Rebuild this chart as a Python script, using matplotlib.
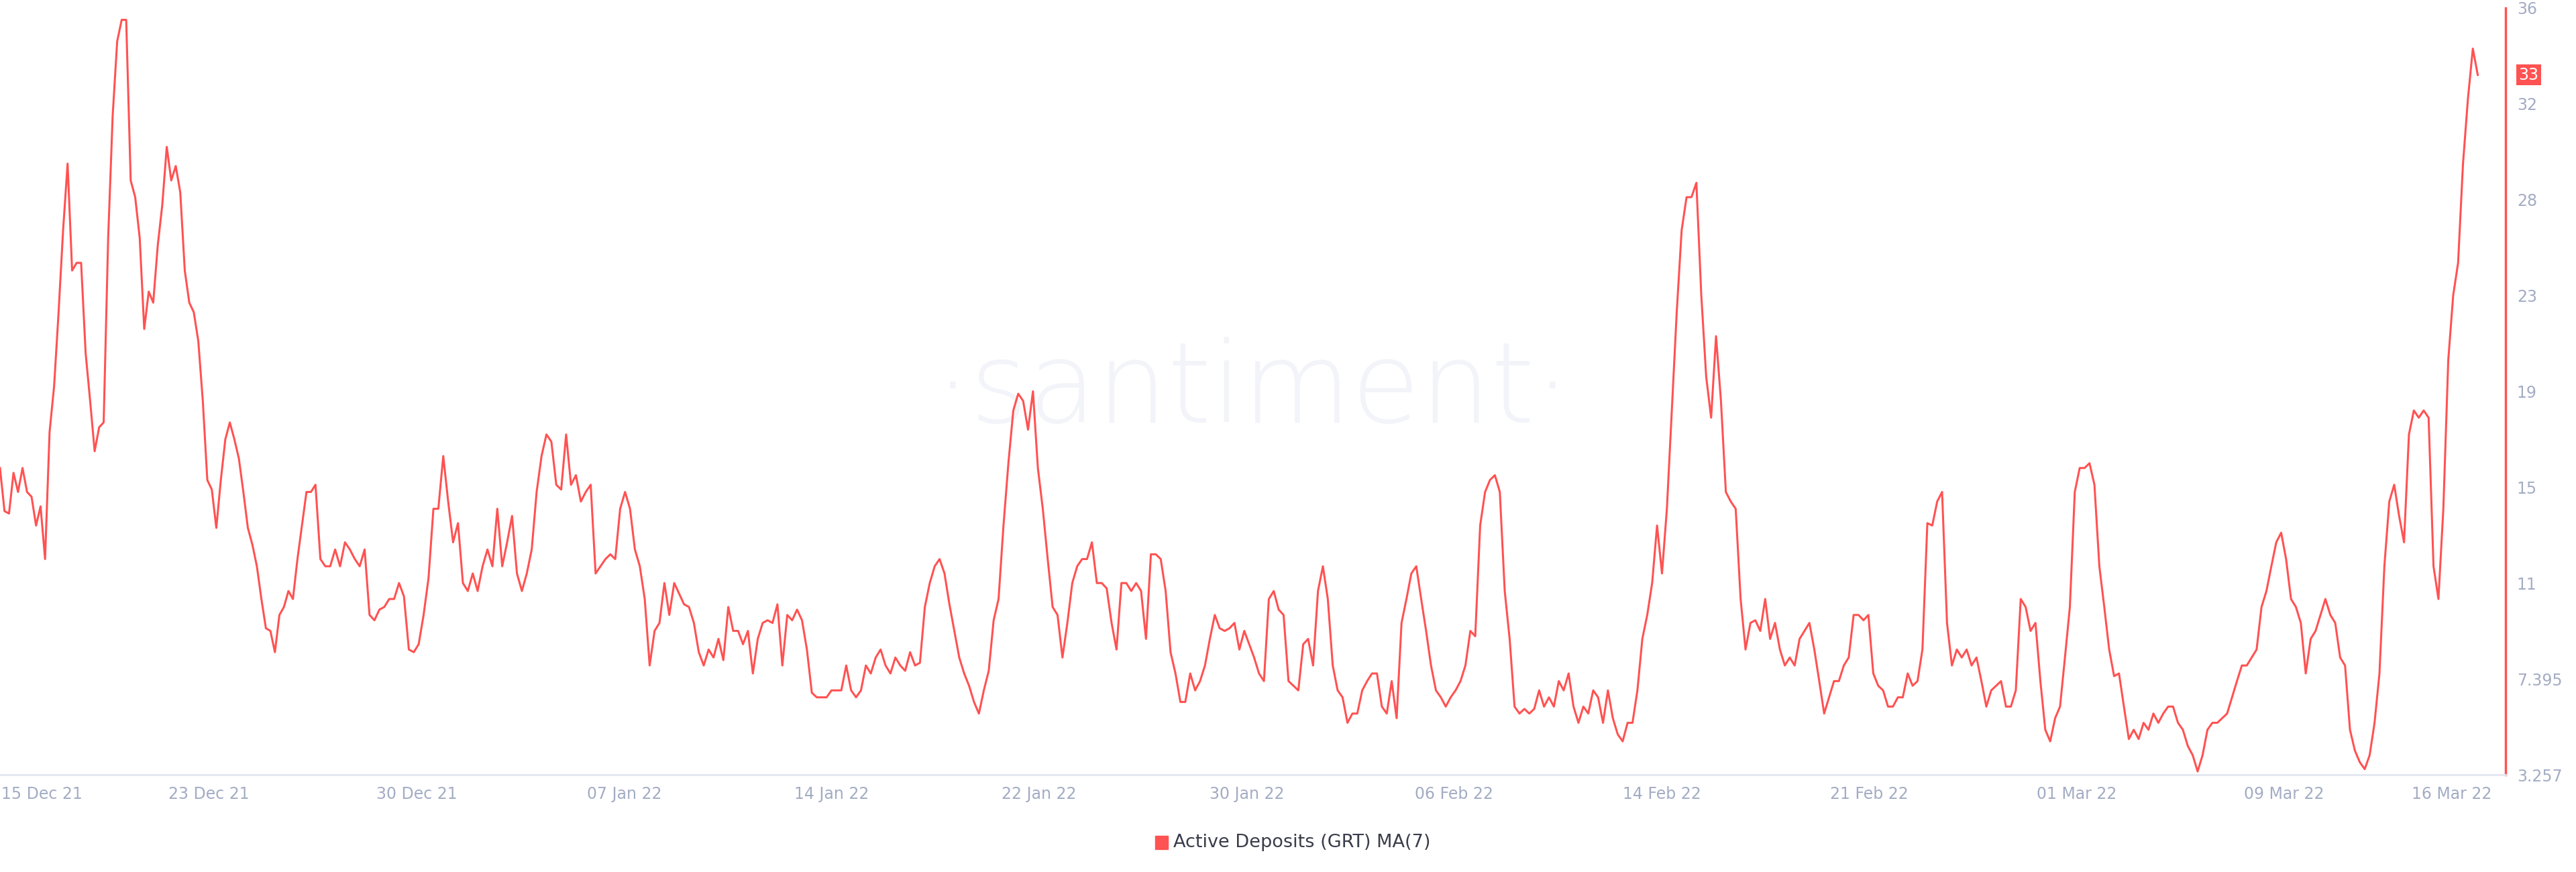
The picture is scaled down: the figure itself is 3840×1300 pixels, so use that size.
import numpy as np
import matplotlib
matplotlib.use("Agg")
import matplotlib.pyplot as plt

values = [
15.8,14.0,13.9,15.6,14.8,15.8,14.8,14.6,13.4,14.2,12.0,17.3,19.2,22.3,26.4,29.5,24.3,24.7,24.7,20.6,
18.6,16.5,17.5,17.7,26.0,31.5,34.6,35.5,35.5,28.8,28.1,26.0,21.6,23.2,22.7,25.6,27.7,30.2,28.8,29.4,
28.3,24.3,22.7,22.3,21.1,18.6,15.3,14.9,13.3,15.3,17.0,17.7,17.0,16.2,14.8,13.3,12.6,11.7,10.4,9.3,
9.2,8.4,9.8,10.1,10.7,10.4,12.0,13.4,14.8,14.8,15.1,
12.0,11.7,11.7,12.4,11.7,12.7,12.4,12.0,11.7,12.4,9.8,9.6,10.0,10.1,10.4,10.4,11.0,10.5,8.5,8.4,
8.7,9.8,11.2,14.1,14.1,16.3,14.4,12.7,13.5,11.0,10.7,11.4,10.7,11.7,12.4,11.7,14.1,11.7,12.7,13.8,
11.4,10.7,11.4,12.4,14.8,16.3,17.2,16.9,15.1,14.9,17.2,15.1,15.5,14.4,14.8,15.1,11.4,11.7,12.0,12.2,
12.0,14.1,14.8,14.1,12.4,11.7,10.4,7.9,9.2,9.5,11.0,9.8,11.0,10.6,10.2,10.1,9.5,8.4,7.9,8.5,
8.2,8.9,8.1,10.1,9.2,9.2,8.7,9.2,7.6,8.9,9.5,9.6,9.5,10.2,7.9,9.8,9.6,10.0,9.6,8.5,
6.8,6.6,6.6,6.6,6.9,6.9,6.9,7.9,6.9,6.6,6.9,7.9,7.6,8.2,8.5,7.9,7.6,8.2,7.9,7.7,
8.4,7.9,8.0,10.1,11.0,11.7,12.0,11.4,10.2,9.2,8.2,7.6,7.1,6.4,5.9,6.9,7.7,9.6,10.4,13.4,
16.0,18.2,18.9,18.6,17.4,19.0,15.8,14.1,12.0,10.1,9.8,8.2,9.5,11.0,11.7,12.0,12.0,12.7,11.0,11.0,
10.8,9.5,8.5,11.0,11.0,10.7,11.0,10.7,8.9,12.2,12.2,12.0,10.7,8.4,7.6,6.4,6.4,7.6,6.9,7.3,
7.9,8.9,9.8,9.3,9.2,9.3,9.5,8.5,9.2,8.7,8.2,7.6,7.3,10.4,10.7,10.0,9.8,7.3,7.1,6.9,
8.7,8.9,7.9,10.7,11.7,10.4,7.9,6.9,6.6,5.5,5.9,5.9,6.9,7.3,7.6,7.6,6.2,5.9,7.3,5.7,
9.5,10.4,11.4,11.7,10.4,9.2,7.9,6.9,6.6,6.2,6.6,6.9,7.3,7.9,9.2,9.0,13.4,14.8,15.3,15.5,
14.8,10.7,8.9,6.2,5.9,6.1,5.9,6.1,6.9,6.2,6.6,6.2,7.3,6.9,7.6,6.2,5.5,6.2,5.9,6.9,
6.6,5.5,6.9,5.7,5.0,4.7,5.5,5.5,6.9,8.9,9.8,11.0,13.4,11.4,14.1,18.2,22.3,26.4,28.1,28.1,
28.7,23.0,19.6,17.9,21.3,18.6,14.8,14.4,14.1,10.4,8.5,9.5,9.6,9.2,10.4,8.9,9.5,8.5,7.9,8.2,
7.9,8.9,9.2,9.5,8.5,7.3,5.9,6.6,7.3,7.3,7.9,8.2,9.8,9.8,9.6,9.8,7.6,7.1,6.9,6.2,
6.2,6.6,6.6,7.6,7.1,7.3,8.5,13.5,13.4,14.4,14.8,9.5,7.9,8.5,8.2,8.5,7.9,8.2,7.3,6.2,
6.9,7.1,7.3,6.2,6.2,6.9,10.4,10.1,9.2,9.5,7.3,5.2,4.7,5.7,6.2,8.2,10.1,14.8,15.8,15.8,
16.0,15.1,11.7,10.1,8.5,7.5,7.6,6.2,4.8,5.2,4.8,5.5,5.2,5.9,5.5,5.9,6.2,6.2,5.5,5.2,
4.5,4.1,3.4,4.1,5.2,5.5,5.5,5.7,5.9,6.6,7.3,7.9,7.9,8.2,8.5,10.1,10.7,11.7,12.7,13.1,
12.0,10.4,10.1,9.5,7.6,8.9,9.2,9.8,10.4,9.8,9.5,8.2,7.9,5.2,4.3,3.8,3.5,4.1,5.5,7.6,
11.7,14.4,15.1,13.8,12.7,17.2,18.2,17.9,18.2,17.9,11.7,10.4,14.1,20.3,23.0,24.7,29.5,32.2,34.3,33.2,
]
y_ticks = [3.257, 7.395, 11, 15, 19, 23, 28, 32, 36]
x_labels = ["15 Dec 21", "23 Dec 21", "30 Dec 21", "07 Jan 22", "14 Jan 22", "22 Jan 22", "30 Jan 22",
            "06 Feb 22", "14 Feb 22", "21 Feb 22", "01 Mar 22", "09 Mar 22", "16 Mar 22"]
series_name = "Active Deposits (GRT) MA(7)"
last_label = "33"

RED = "#ff5252"
GREY = "#a3acc4"

fig = plt.figure(figsize=(38.4, 13), dpi=100)
ax = fig.add_axes([0.0, 0.1115, 0.9727, 0.8795])

pos = np.arange(len(y_ticks), dtype=float)
ax.set_yscale("function", functions=(lambda v: np.interp(v, y_ticks, pos),
                                     lambda p: np.interp(p, pos, y_ticks)))

n = len(values)
n1 = 71
x = np.concatenate([np.linspace(0, 192, n1), np.linspace(195, 1508, n - n1)])
ax.plot(x, values, color=RED, lw=2.2, solid_joinstyle="round")
ax.set_xlim(0, 1525)
ax.set_ylim(y_ticks[0], y_ticks[-1])

for s in ["top", "left"]:
    ax.spines[s].set_visible(False)
ax.spines["right"].set_color(RED)
ax.spines["right"].set_linewidth(2.5)
ax.spines["bottom"].set_color("#e3e7f0")
ax.spines["bottom"].set_linewidth(2)

ax.yaxis.tick_right()
ax.set_yticks(y_ticks)
ax.set_yticklabels([f"{t:g}" for t in y_ticks])
ax.tick_params(axis="y", length=0, pad=12, labelsize=17, labelcolor=GREY)

xt = [1 + 126.3 * i for i in range(len(x_labels))]
ax.set_xticks(xt)
ax.set_xticklabels(x_labels)
ax.tick_params(axis="x", length=0, pad=12, labelsize=17, labelcolor=GREY)
tl = ax.get_xticklabels()
tl[0].set_ha("left")
tl[-1].set_ha("right")

ax.annotate(last_label, xy=(1.0, values[-1]), xycoords=("axes fraction", "data"),
            xytext=(14, 0), textcoords="offset points", va="center", ha="left",
            fontsize=17, color="white",
            bbox=dict(boxstyle="square,pad=0.15", fc=RED, ec="none"))

ax.text(0.5, 0.5, "·santiment·", transform=ax.transAxes, ha="center", va="center",
        fontsize=120, color="#f3f4f9", fontweight="light", zorder=0)

fig.patches.append(plt.Rectangle((0.4485, 0.0265), 0.0050, 0.0148, transform=fig.transFigure,
                                 color=RED))
fig.text(0.4555, 0.034, series_name, ha="left", va="center", fontsize=19.5, color="#3a3d4a")

fig.savefig("out.png", dpi=100, facecolor="white")
